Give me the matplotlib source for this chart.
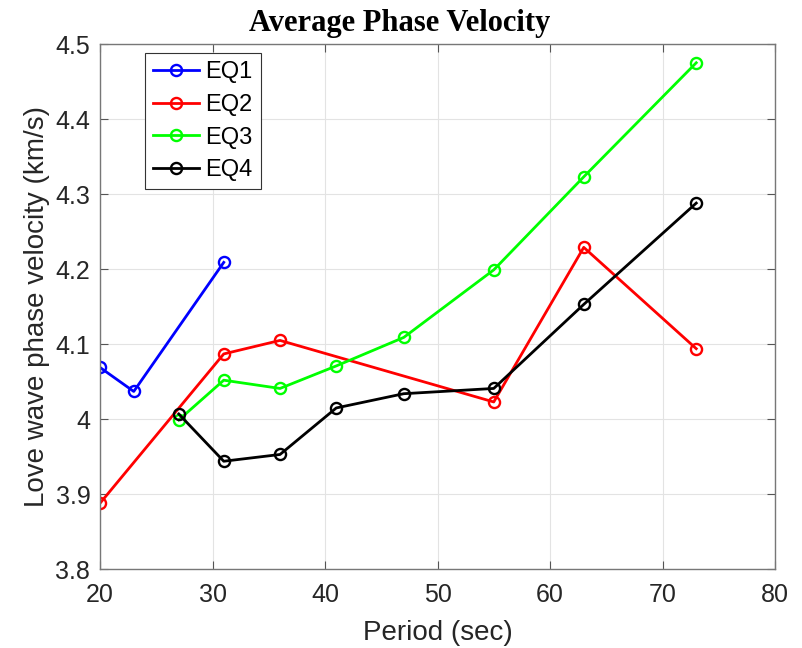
import matplotlib
matplotlib.use("Agg")
import matplotlib.pyplot as plt

eq1_x = [20, 23, 31]
eq1_y = [4.069, 4.037, 4.209]
eq2_x = [20, 31, 36, 55, 63, 73]
eq2_y = [3.888, 4.087, 4.105, 4.023, 4.229, 4.094]
eq3_x = [27, 31, 36, 41, 47, 55, 63, 73]
eq3_y = [3.999, 4.052, 4.041, 4.071, 4.109, 4.199, 4.323, 4.475]
eq4_x = [27, 31, 36, 41, 47, 55, 63, 73]
eq4_y = [4.007, 3.944, 3.953, 4.015, 4.034, 4.041, 4.153, 4.288]
labels = ["EQ1", "EQ2", "EQ3", "EQ4"]
colors = ["#0000ff", "#ff0000", "#00ff00", "#000000"]

xticks = [20, 30, 40, 50, 60, 70, 80]
yticks = [3.8, 3.9, 4.0, 4.1, 4.2, 4.3, 4.4, 4.5]
yticklabels = ["3.8", "3.9", "4", "4.1", "4.2", "4.3", "4.4", "4.5"]

plt.rcParams['font.family'] = ['Liberation Sans', 'DejaVu Sans']

fig = plt.figure(figsize=(8.02, 6.48), dpi=100)
ax = fig.add_axes([100/802, 1-569.3/648, 675/802, 525.3/648])

for xs, ys, lab, c in zip([eq1_x, eq2_x, eq3_x, eq4_x], [eq1_y, eq2_y, eq3_y, eq4_y], labels, colors):
    ax.plot(xs, ys, '-o', color=c, lw=2.0, marker='o', markersize=8,
            markerfacecolor='none', markeredgewidth=1.7, label=lab)

ax.set_xlim(20, 80)
ax.set_ylim(3.8, 4.5)
ax.set_xticks(xticks)
ax.set_yticks(yticks)
ax.set_yticklabels(yticklabels)
ax.grid(True, color='#e3e3e3', lw=0.8)
ax.set_axisbelow(True)
ax.tick_params(direction='in', top=True, right=True, labelsize=18, length=6, width=0.8,
               colors='#555555', labelcolor='#262626')
ax.tick_params(axis='x', pad=10)
ax.tick_params(axis='y', pad=7)
for s in ax.spines.values():
    s.set_color('#777777')
    s.set_linewidth(1.0)

ax.set_xlabel("Period (sec)", fontsize=20, color='#262626', labelpad=9)
ax.set_ylabel("Love wave phase velocity (km/s)", fontsize=20, color='#262626', labelpad=4)
fig.text(400/802, 1-31/648, "Average Phase Velocity", fontsize=22, fontweight='bold',
         family='Liberation Serif', ha='center', va='baseline', color='black')

leg = ax.legend(loc='upper left', bbox_to_anchor=(45/675, 1-9/525.3), fontsize=17,
                frameon=True, fancybox=False, edgecolor='#333333', framealpha=1,
                borderpad=0.35, labelspacing=0.45, handlelength=1.95, handletextpad=0.25,
                borderaxespad=0)
leg.get_frame().set_linewidth(0.8)

fig.savefig("out.png", dpi=100)
